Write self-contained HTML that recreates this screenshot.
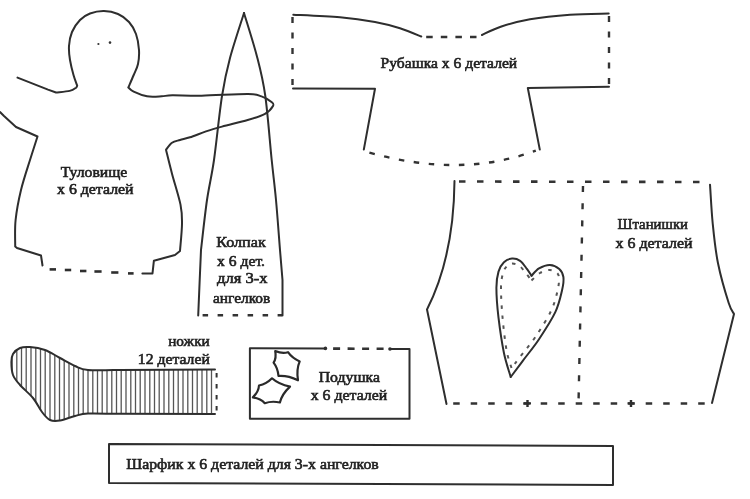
<!DOCTYPE html>
<html><head><meta charset="utf-8">
<style>
html,body{margin:0;padding:0;background:#fff;}
body{width:750px;height:499px;overflow:hidden;}
svg{display:block;filter:blur(0.3px);}
.s{fill:none;stroke:#2e2e2e;stroke-width:2;stroke-linejoin:round;stroke-linecap:round;}
.leaf{fill:none;stroke:#2a2a2a;stroke-width:2.2;stroke-linejoin:round;}
.d3{fill:none;stroke:#2e2e2e;stroke-width:2.6;}
.dh{fill:none;stroke:#333;stroke-width:2.6;stroke-dasharray:6.5 11.5;}
.dv{fill:none;stroke:#333;stroke-width:2.4;stroke-dasharray:6 9.5;}
.dv2{fill:none;stroke:#333;stroke-width:2;stroke-dasharray:4.5 6.5;}
.dcone{fill:none;stroke:#333;stroke-width:2.6;stroke-dasharray:5.5 9.5;}
.plus{fill:none;stroke:#2e2e2e;stroke-width:2.4;}
.dpil{fill:none;stroke:#333;stroke-width:2.6;stroke-dasharray:7 7.5;}
.dshm{fill:none;stroke:#333;stroke-width:2.4;stroke-dasharray:6.5 8.1;}
.dpb{fill:none;stroke:#333;stroke-width:2.6;stroke-dasharray:6.5 11;}
.dc{fill:none;stroke:#333;stroke-width:2.4;stroke-dasharray:5.5 9.6;}
.dd{fill:none;stroke:#555;stroke-width:2;stroke-dasharray:3.5 6.5;}
.dvp{fill:none;stroke:#333;stroke-width:2.4;stroke-dasharray:6 11.2;}
.stripe{fill:none;stroke:#555;stroke-width:1.3;}
text{font-family:"Liberation Serif",serif;fill:#222;stroke:#222;stroke-width:0.6;}
</style></head>
<body>
<svg width="750" height="499" viewBox="0 0 750 499">
<path class="s" d="M0.0,112.0 L4.0,116.0 L16.0,127.0 L37.5,136.5 L37.5,136.5 C36.2,140.4 32.8,151.1 30.0,160.0 C27.2,168.9 23.4,180.0 21.0,190.0 C18.6,200.0 16.6,210.6 15.6,220.0 C14.6,229.4 15.3,242.1 15.2,246.5 L15.2,246.5 L17.0,248.0 L41.0,255.5 L42.5,265.5"/>
<path class="s" d="M17.5,77.6 L48.0,89.6 L56.0,92.5 L56.0,92.5 C58.3,92.2 66.4,91.7 69.7,90.9 C73.0,90.1 74.8,88.6 76.1,87.7 C77.3,86.8 77.0,85.9 77.2,85.6 L77.2,85.6 C76.6,83.8 74.7,79.3 73.5,75.0 C72.3,70.7 70.8,64.8 70.0,60.0 C69.2,55.2 68.7,50.7 69.0,46.0 C69.3,41.3 70.2,36.3 72.0,32.0 C73.8,27.7 77.0,23.1 80.0,20.0 C83.0,16.9 86.0,15.0 90.0,13.5 C94.0,12.0 99.3,10.9 104.0,11.0 C108.7,11.1 113.8,12.2 118.0,14.0 C122.2,15.8 126.0,18.7 129.0,22.0 C132.0,25.3 134.3,29.3 136.0,34.0 C137.7,38.7 138.7,45.0 139.0,50.0 C139.3,55.0 138.9,59.8 138.0,64.0 C137.1,68.2 135.3,71.1 133.7,75.0 C132.1,78.9 129.2,85.4 128.3,87.5 L128.3,87.5 C129.2,88.2 130.6,90.2 133.7,91.7 C136.8,93.2 142.3,95.5 147.0,96.3 C151.7,97.1 157.5,96.5 161.7,96.3 C165.9,96.1 165.6,95.4 172.3,95.3 C179.0,95.2 189.1,95.9 201.7,95.7 C214.3,95.5 238.0,93.9 248.0,94.0 C258.0,94.1 257.6,95.1 261.5,96.4 C265.4,97.7 269.6,100.4 271.5,102.0 C273.4,103.6 274.1,104.0 273.0,106.0 C271.9,108.0 269.2,111.5 265.0,113.8 C260.8,116.1 254.9,117.9 247.7,120.0 C240.5,122.1 228.9,124.7 222.0,126.6 C215.1,128.5 211.3,129.6 206.0,131.4 C200.7,133.2 194.3,135.9 190.0,137.3 C185.7,138.7 183.0,139.1 180.0,140.0 C177.0,140.9 174.3,141.2 172.0,142.8 C169.7,144.4 167.0,148.6 166.0,149.8 L166.0,149.8 C167.0,153.8 169.6,164.6 172.0,173.7 C174.4,182.8 178.8,196.2 180.5,204.6 C182.2,213.0 182.1,216.3 182.0,224.0 C181.9,231.7 180.3,246.5 180.0,251.0 L180.0,251.0 L175.0,255.0 L153.9,260.7 L152.5,273.4 L142.4,273.6"/>
<path class="d3" d="M49.6,269.4 L56,269.4"/>
<path class="d3" d="M64.8,270 L71.2,270"/>
<path class="d3" d="M80,271 L86.4,271"/>
<path class="d3" d="M94.4,271.5 L101.6,271.5"/>
<path class="d3" d="M111.2,272.5 L118.4,272.5"/>
<path class="d3" d="M128,273.4 L133.6,273.4"/>
<circle cx="98.4" cy="44" r="1.1" fill="#333"/><circle cx="110" cy="42.6" r="1.3" fill="#333"/>
<path class="s" d="M244.0,13.0 C241.7,20.5 233.7,44.2 230.0,58.0 C226.3,71.8 224.7,79.0 222.0,96.0 C219.3,113.0 216.5,142.7 214.0,160.0 C211.5,177.3 209.2,185.0 207.0,200.0 C204.8,215.0 202.0,241.7 201.0,250.0 L201.0,250.0 L199.7,280.0 L198.2,315.5"/>
<path class="s" d="M244.0,13.0 C246.2,20.4 253.8,43.9 257.3,57.7 C260.9,71.5 262.9,79.0 265.3,96.0 C267.7,113.0 269.9,142.7 271.7,160.0 C273.5,177.3 274.6,185.0 276.0,200.0 C277.4,215.0 279.3,241.7 280.0,250.0 L280.0,250.0 L282.5,280.0 L282.5,315.5"/>
<path class="dcone" d="M202.6,315.2 L282,315.2"/>
<path class="s" d="M293.3,14.7 C301.1,15.1 326.4,16.1 340.0,17.3 C353.6,18.5 365.0,20.2 375.0,22.0 C385.0,23.8 392.3,25.9 400.0,28.3 C407.7,30.7 417.8,35.1 421.3,36.5"/>
<path class="s" d="M482.0,35.0 C485.1,33.6 492.7,29.3 500.7,26.7 C508.7,24.1 518.5,21.2 530.0,19.2 C541.5,17.2 556.9,15.6 570.0,14.7 C583.1,13.8 602.2,13.7 608.7,13.5"/>
<path class="dshm" d="M426.2,37 L477,37"/>
<path class="dv" d="M292.5,17 L292.5,88"/>
<path class="dv" d="M609,16 L609,86"/>
<path class="s" d="M293.0,88.5 L375.0,88.8 L363.8,149.6"/>
<path class="s" d="M609.0,86.8 L527.8,88.0 L539.8,149.6"/>
<path class="dc" d="M369.4,152.6 Q461.4,178.4 535.8,150.6"/>
<path class="dh" d="M459,181.5 L703,182"/>
<path class="s" d="M454.5,181 C454,235 444,276 427,309.5 L446.5,404"/>
<path class="s" d="M710.0,184.7 C710.5,191.1 711.4,210.2 712.7,223.3 C714.0,236.4 715.3,250.0 718.0,263.3 C720.7,276.6 726.0,294.6 728.7,303.0 C731.4,311.4 733.1,312.2 734.0,314.0 L734.0,314.0 L712.0,403.0"/>
<path class="dpb" d="M453.2,403.5 L712,403.5"/>
<path class="dvp" d="M583,186 L578.6,399"/>
<path class="plus" d="M524.0,403.4 L531.0,403.4 M527.5,400 L527.5,407"/>
<path class="plus" d="M627.5,403.4 L634.5,403.4 M631,400 L631,407"/>
<path class="s" d="M510.7,377.0 C509.6,372.9 505.9,362.6 503.9,352.7 C501.9,342.8 499.8,328.4 498.5,317.6 C497.2,306.8 496.4,295.5 496.4,287.8 C496.4,280.1 497.2,275.9 498.5,271.6 C499.8,267.3 501.6,264.4 503.9,262.2 C506.1,260.0 509.3,258.8 512.0,258.6 C514.7,258.4 517.6,259.1 520.1,260.8 C522.6,262.5 525.0,266.4 526.9,268.9 C528.8,271.4 530.7,274.6 531.5,275.7"/>
<path class="s" d="M531.5,275.7 C532.8,274.5 535.9,270.2 539.0,268.4 C542.1,266.6 546.5,264.8 549.9,264.9 C553.3,265.0 557.0,266.9 559.3,268.9 C561.5,270.9 562.9,273.4 563.4,277.0 C563.9,280.6 563.4,284.6 562.0,290.5 C560.6,296.4 559.1,304.1 555.3,312.2 C551.5,320.3 544.4,331.1 539.0,339.2 C533.6,347.3 527.5,354.5 522.8,360.8 C518.1,367.1 512.7,374.3 510.7,377.0"/>
<path class="dd" d="M511.5,368.0 C510.7,365.0 508.0,358.5 506.5,350.0 C505.0,341.5 503.4,327.3 502.5,317.0 C501.6,306.7 500.9,295.3 501.0,288.0 C501.1,280.7 502.0,276.7 503.0,273.0 C504.0,269.3 505.5,267.6 507.0,266.0 C508.5,264.4 510.0,263.6 512.0,263.5 C514.0,263.4 516.8,264.1 519.0,265.5 C521.2,266.9 522.9,269.5 525.0,272.0 C527.1,274.5 530.4,279.1 531.5,280.5"/>
<path class="dd" d="M531.5,280.5 C532.9,279.2 537.0,274.8 540.0,273.0 C543.0,271.2 546.8,270.1 549.5,270.0 C552.2,269.9 554.9,271.2 556.5,272.5 C558.1,273.8 558.8,274.9 559.0,278.0 C559.2,281.1 558.8,285.5 557.5,291.0 C556.2,296.5 554.6,303.5 551.0,311.0 C547.4,318.5 541.2,328.3 536.0,336.0 C530.8,343.7 524.1,351.7 520.0,357.0 C515.9,362.3 512.9,366.2 511.5,368.0"/>
<clipPath id="sockclip"><path d="M215,369.5 L120,370 C114.7,370.0 95.5,370.7 88.0,370.0 C80.5,369.3 79.7,368.0 75.0,366.0 C70.3,364.0 65.0,360.7 60.0,358.0 C55.0,355.3 50.0,351.8 45.0,350.0 C40.0,348.2 34.2,347.3 30.0,347.0 C25.8,346.7 22.8,346.8 20.0,348.0 C17.2,349.2 14.4,351.7 13.0,354.0 C11.6,356.3 11.4,358.5 11.4,362.0 C11.4,365.5 11.6,371.2 13.0,375.0 C14.4,378.8 16.7,381.2 20.0,385.0 C23.3,388.8 29.3,393.5 33.0,398.0 C36.7,402.5 39.2,408.3 42.0,412.0 C44.8,415.7 47.0,418.6 50.0,420.0 C53.0,421.4 55.8,421.2 60.0,420.5 C64.2,419.8 70.3,417.2 75.0,416.0 C79.7,414.8 80.5,413.9 88.0,413.5 C95.5,413.1 114.7,413.8 120.0,413.8 L215,414 Z"/></clipPath>
<path class="stripe" clip-path="url(#sockclip)" d="M12.0,340 L12.0,425 M16.8,340 L16.8,425 M21.5,340 L21.5,425 M26.2,340 L26.2,425 M31.0,340 L31.0,425 M35.8,340 L35.8,425 M40.5,340 L40.5,425 M45.2,340 L45.2,425 M50.0,340 L50.0,425 M54.8,340 L54.8,425 M59.5,340 L59.5,425 M64.2,340 L64.2,425 M69.0,340 L69.0,425 M73.8,340 L73.8,425 M78.5,340 L78.5,425 M83.2,340 L83.2,425 M88.0,340 L88.0,425 M92.8,340 L92.8,425 M97.5,340 L97.5,425 M102.2,340 L102.2,425 M107.0,340 L107.0,425 M111.8,340 L111.8,425 M116.5,340 L116.5,425 M121.2,340 L121.2,425 M126.0,340 L126.0,425 M130.8,340 L130.8,425 M135.5,340 L135.5,425 M140.2,340 L140.2,425 M145.0,340 L145.0,425 M149.8,340 L149.8,425 M154.5,340 L154.5,425 M159.2,340 L159.2,425 M164.0,340 L164.0,425 M168.8,340 L168.8,425 M173.5,340 L173.5,425 M178.2,340 L178.2,425 M183.0,340 L183.0,425 M187.8,340 L187.8,425 M192.5,340 L192.5,425 M197.2,340 L197.2,425 M202.0,340 L202.0,425 M206.8,340 L206.8,425 M211.5,340 L211.5,425 "/>
<path class="s" d="M215,369.5 L120,370 C114.7,370.0 95.5,370.7 88.0,370.0 C80.5,369.3 79.7,368.0 75.0,366.0 C70.3,364.0 65.0,360.7 60.0,358.0 C55.0,355.3 50.0,351.8 45.0,350.0 C40.0,348.2 34.2,347.3 30.0,347.0 C25.8,346.7 22.8,346.8 20.0,348.0 C17.2,349.2 14.4,351.7 13.0,354.0 C11.6,356.3 11.4,358.5 11.4,362.0 C11.4,365.5 11.6,371.2 13.0,375.0 C14.4,378.8 16.7,381.2 20.0,385.0 C23.3,388.8 29.3,393.5 33.0,398.0 C36.7,402.5 39.2,408.3 42.0,412.0 C44.8,415.7 47.0,418.6 50.0,420.0 C53.0,421.4 55.8,421.2 60.0,420.5 C64.2,419.8 70.3,417.2 75.0,416.0 C79.7,414.8 80.5,413.9 88.0,413.5 C95.5,413.1 114.7,413.8 120.0,413.8 L215,414"/>
<path class="dv2" d="M216.6,373 L216.6,411"/>
<path class="s" d="M325.4,348.4 L249.9,348.2 L249.9,418.7 L409.5,418.7 L409.5,349.0 L389.8,349.0"/>
<path class="dpil" d="M333.1,348.6 L384,348.8"/>
<circle cx="325.4" cy="348.4" r="1.8" fill="#2e2e2e"/><circle cx="390" cy="349" r="1.8" fill="#2e2e2e"/>
<path class="leaf" d="M275.2,351.0 Q282.4,354.1 288.0,352.2 Q292.2,358.2 299.7,361.4 Q296.2,369.5 298.0,380.3 Q287.7,375.3 278.5,376.0 Q277.9,368.2 273.6,362.6 Q276.6,358.2 275.2,351.0 Z"/>
<path class="leaf" d="M272.0,378.3 Q278.8,384.4 290.0,386.6 Q281.9,394.1 279.9,402.5 Q271.8,400.7 264.8,403.2 Q261.0,398.7 252.9,397.4 Q258.7,391.6 259.0,385.5 Q266.4,384.0 272.0,378.3 Z"/>
<path class="s" d="M109.0,444.0 L613.0,446.0 L613.0,485.0 L109.0,483.0 Z"/>
<text x="60.8" y="176.5" font-size="15" textLength="66.5" lengthAdjust="spacingAndGlyphs">Туловище</text>
<text x="57" y="194.3" font-size="15" textLength="76.6" lengthAdjust="spacingAndGlyphs">х 6 деталей</text>
<text x="216.2" y="247" font-size="15" textLength="49.6" lengthAdjust="spacingAndGlyphs">Колпак</text>
<text x="217.1" y="265.6" font-size="15" textLength="47.9" lengthAdjust="spacingAndGlyphs">х 6 дет.</text>
<text x="217" y="282.8" font-size="15" textLength="50.6" lengthAdjust="spacingAndGlyphs">для 3-х</text>
<text x="213" y="302.9" font-size="15" textLength="57.3" lengthAdjust="spacingAndGlyphs">ангелков</text>
<text x="380.5" y="68" font-size="15" textLength="136.7" lengthAdjust="spacingAndGlyphs">Рубашка х 6 деталей</text>
<text x="617.5" y="228.6" font-size="15" textLength="70.5" lengthAdjust="spacingAndGlyphs">Штанишки</text>
<text x="615.5" y="247.8" font-size="15" textLength="77.0" lengthAdjust="spacingAndGlyphs">х 6 деталей</text>
<text x="168.2" y="346.2" font-size="15" textLength="41.6" lengthAdjust="spacingAndGlyphs">ножки</text>
<text x="137.8" y="363.6" font-size="15" textLength="72.0" lengthAdjust="spacingAndGlyphs">12 деталей</text>
<text x="318.7" y="381.7" font-size="15" textLength="61.3" lengthAdjust="spacingAndGlyphs">Подушка</text>
<text x="310.7" y="399.8" font-size="15" textLength="76.6" lengthAdjust="spacingAndGlyphs">х 6 деталей</text>
<text x="126.2" y="468.7" font-size="15" textLength="252.6" lengthAdjust="spacingAndGlyphs">Шарфик х 6 деталей для 3-х ангелков</text>
</svg>
</body></html>
